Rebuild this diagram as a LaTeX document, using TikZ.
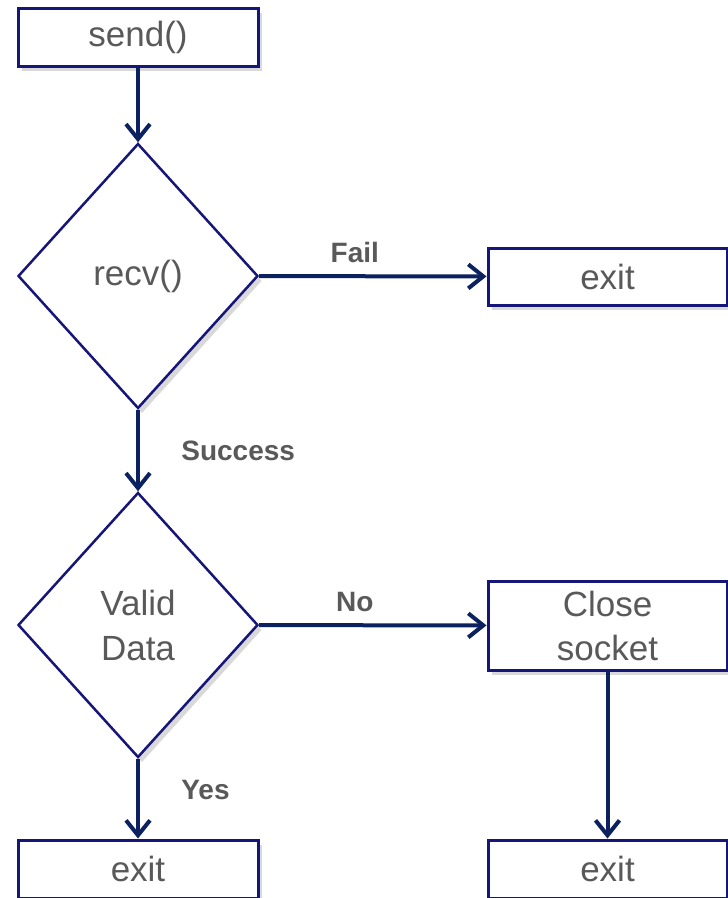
\documentclass[tikz,border=0pt]{standalone}
\usepackage{fontspec}
\setmainfont{Liberation Sans}
\usetikzlibrary{shapes.geometric,arrows.meta,shadows}
\definecolor{borde}{RGB}{22,22,120}
\definecolor{flecha}{RGB}{12,34,96}
\definecolor{texto}{RGB}{89,89,89}
\tikzset{
  caja/.style={draw=borde, line width=3pt, fill=white, minimum width=240pt,
    minimum height=58pt, inner sep=0pt, text=texto, font=\fontsize{35}{40}\selectfont,
    drop shadow={opacity=0.3, shadow xshift=4pt, shadow yshift=-5pt}},
  rombo/.style={diamond, draw=borde, line width=2.5pt, fill=white, minimum width=240pt,
    minimum height=265pt, inner sep=0pt, text=texto, align=center,
    font=\fontsize{35}{45}\selectfont,
    drop shadow={opacity=0.3, shadow xshift=4pt, shadow yshift=-5pt}},
  flechita/.style={draw=flecha, line width=4pt, -{Straight Barb[length=15pt,width=24pt]}},
  etiqueta/.style={text=texto, font=\bfseries\fontsize{28}{32}\selectfont}
}
\begin{document}
\begin{tikzpicture}[x=1pt,y=-1pt]
    % marco del dibujo
    \useasboundingbox (0,0) rectangle (728,898);
    % cajas y rombos
    \node[caja] (send) at (138,37) {send()};
    \node[rombo] (recv) at (138,276) {recv()};
    \node[caja, minimum width=239pt, minimum height=57pt] (exitA) at (607.5,276.5) {exit};
    \node[rombo] (valid) at (138,625) {Valid\\Data};
    \node[caja, minimum width=239pt, minimum height=89pt, align=center,
      font=\fontsize{35}{44}\selectfont] (close) at (607.5,625.5) {Close\\socket};
    \node[caja] (exitB) at (138,869) {exit};
    \node[caja, minimum width=239pt] (exitC) at (607.5,869) {exit};
    % conectores
    \draw[flechita] (send) -- (recv);
    \draw[flechita] (recv) -- node[etiqueta, above=8pt, xshift=-18pt] (fail) {Fail} (exitA);
    \draw[flechita] (recv) -- node[etiqueta, right=38pt] (success) {Success} (valid);
    \draw[flechita] (valid) -- node[etiqueta, above=8pt, xshift=-18pt] (no) {No} (close);
    \draw[flechita] (valid) -- node[etiqueta, right=38pt, yshift=9pt] (yes) {Yes} (exitB);
    \draw[flechita] (close) -- (exitC);
\end{tikzpicture}
\end{document}
